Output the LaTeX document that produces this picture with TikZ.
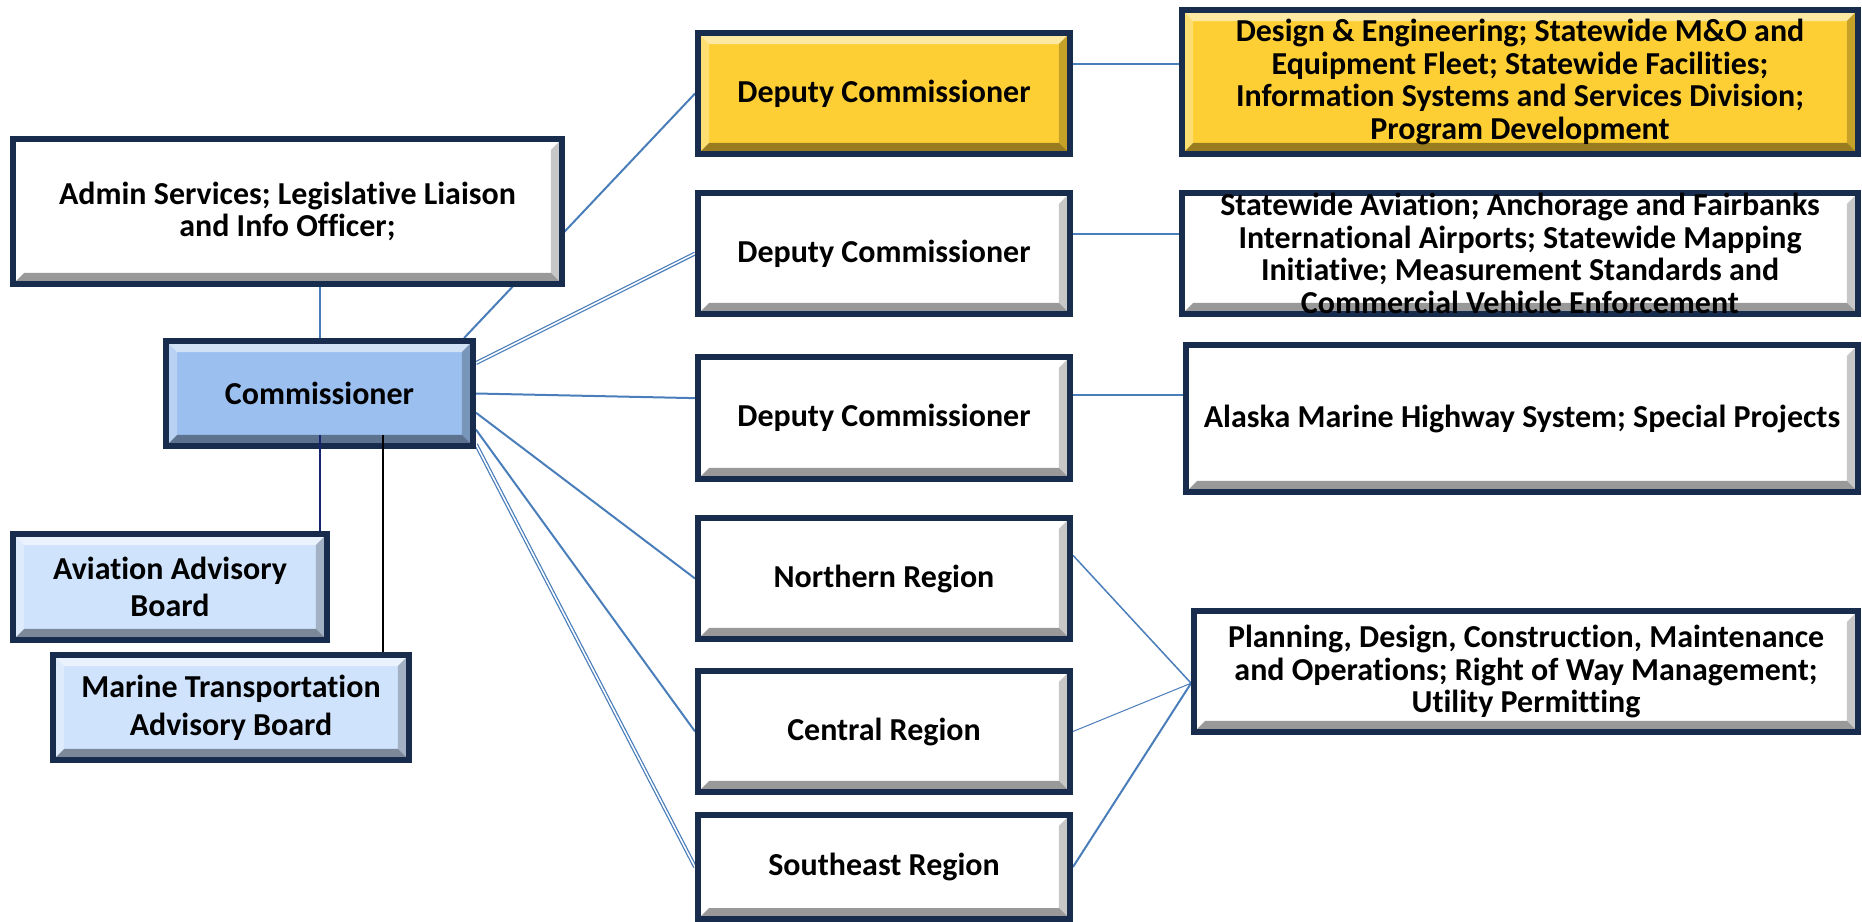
\documentclass[tikz,border=0pt]{standalone}
\usepackage{fontspec}
\setmainfont[Ligatures=NoCommon]{Carlito}
\usetikzlibrary{backgrounds}
\definecolor{boxnavy}{RGB}{24,45,78}
\definecolor{gold}{RGB}{254,207,52}
\definecolor{commblue}{RGB}{155,191,239}
\definecolor{boardblue}{RGB}{208,227,252}
\definecolor{linkblue}{RGB}{74,126,187}
\definecolor{darknavy}{RGB}{22,38,110}
\tikzset{
	bevel/.style={path picture={
		\coordinate (bnw) at (path picture bounding box.north west);
		\coordinate (bne) at (path picture bounding box.north east);
		\coordinate (bsw) at (path picture bounding box.south west);
		\coordinate (bse) at (path picture bounding box.south east);
		\fill[white,opacity=.55] (bnw) -- (bne) -- ([shift={(-0.22cm,-0.22cm)}]bne) -- ([shift={(0.22cm,-0.22cm)}]bnw) -- cycle;
		\fill[white,opacity=.3] (bnw) -- ([shift={(0.22cm,-0.22cm)}]bnw) -- ([shift={(0.22cm,0.22cm)}]bsw) -- (bsw) -- cycle;
		\fill[black,opacity=.4] (bsw) -- ([shift={(0.22cm,0.22cm)}]bsw) -- ([shift={(-0.22cm,0.22cm)}]bse) -- (bse) -- cycle;
		\fill[black,opacity=.22] (bne) -- ([shift={(-0.22cm,-0.22cm)}]bne) -- ([shift={(-0.22cm,0.22cm)}]bse) -- (bse) -- cycle;
	}},
	orgbox/.style={draw=boxnavy, line width=0.12cm, fill=#1, bevel, align=center, inner sep=0pt,
		font=\bfseries\fontsize{18.2}{18.6}\selectfont},
	orgbox/.default=white,
	boardbox/.style={orgbox=boardblue, font=\bfseries\fontsize{18.2}{21.5}\selectfont},
	link/.style={draw=linkblue, line width=0.04cm},
	dlink/.style={draw=linkblue, line width=0.025cm, double=white, double distance=0.03cm},
}
\begin{document}
\begin{tikzpicture}[x=0.02cm,y=-0.02cm]
		\useasboundingbox (0,0) rectangle (1862,922);
		\node[orgbox, minimum width=10.98cm, minimum height=2.90cm] (admin) at (287.5,211.5) {Admin Services; Legislative Liaison\\and Info Officer;};
		\node[orgbox=commblue, minimum width=6.14cm, minimum height=2.10cm] (comm) at (319.5,393.5) {Commissioner};
		\node[boardbox, minimum width=6.28cm, minimum height=2.12cm] (aviation) at (170,587) {Aviation Advisory\\Board};
		\node[boardbox, minimum width=7.12cm, minimum height=2.10cm] (marine) at (231,707.5) {Marine Transportation\\Advisory Board};
		\node[orgbox=gold, minimum width=7.44cm, minimum height=2.42cm] (depA) at (884,93.5) {Deputy Commissioner};
		\node[orgbox, minimum width=7.44cm, minimum height=2.42cm] (depB) at (884,253.5) {Deputy Commissioner};
		\node[orgbox, minimum width=7.44cm, minimum height=2.44cm] (depC) at (884,418) {Deputy Commissioner};
		\node[orgbox, minimum width=7.44cm, minimum height=2.42cm] (northern) at (884,578.5) {Northern Region};
		\node[orgbox, minimum width=7.44cm, minimum height=2.42cm] (central) at (884,731.5) {Central Region};
		\node[orgbox, minimum width=7.44cm, minimum height=2.08cm] (southeast) at (884,867) {Southeast Region};
		\node[orgbox=gold, minimum width=13.52cm, minimum height=2.88cm] (design) at (1520,82) {Design \& Engineering; Statewide M\&O and\\Equipment Fleet; Statewide Facilities;\\Information Systems and Services Division;\\Program Development};
		\node[orgbox, minimum width=13.52cm, minimum height=2.42cm] (statewide) at (1520,253.5) {Statewide Aviation; Anchorage and Fairbanks\\International Airports; Statewide Mapping\\Initiative; Measurement Standards and\\Commercial Vehicle Enforcement};
		\node[orgbox, minimum width=13.44cm, minimum height=2.94cm] (amhs) at (1522,418.5) {Alaska Marine Highway System; Special Projects};
		\node[orgbox, minimum width=13.28cm, minimum height=2.42cm] (planning) at (1526,671.5) {Planning, Design, Construction, Maintenance\\and Operations; Right of Way Management;\\Utility Permitting};
		\begin{scope}[on background layer]
			\draw[link] (comm.north) -- (comm.north |- admin.south);
			\draw[link] (comm.21) -- (depA.west);
			\draw[dlink] (comm.11) -- (depB.west);
			\draw[link] (comm.east) -- (depC.174);
			\draw[link] (comm.-7) -- (northern.west);
			\draw[link] (comm.-13) -- (central.west);
			\draw[dlink] (comm.-18.5) -- (southeast.west);
			\draw[link] (depA.9) -- (depA.9 -| design.west);
			\draw[link] (depB.6) -- (depB.6 -| statewide.west);
			\draw[link] (depC.7) -- (depC.7 -| amhs.west);
			\draw[link,line width=0.03cm] (northern.7) -- (planning.182);
			\draw[link,line width=0.02cm] (central.east) -- (planning.182);
			\draw[link] (southeast.east) -- (planning.182);
		\end{scope}
		\coordinate (mtap) at ([xshift=1.27cm,yshift=0.28cm]comm.south);
		\draw[darknavy,line width=0.04cm] ([yshift=0.28cm]comm.south) -- (comm.south |- aviation.north);
		\draw[black,line width=0.03cm] (mtap) -- (mtap |- marine.north);
	\end{tikzpicture}
\end{document}
